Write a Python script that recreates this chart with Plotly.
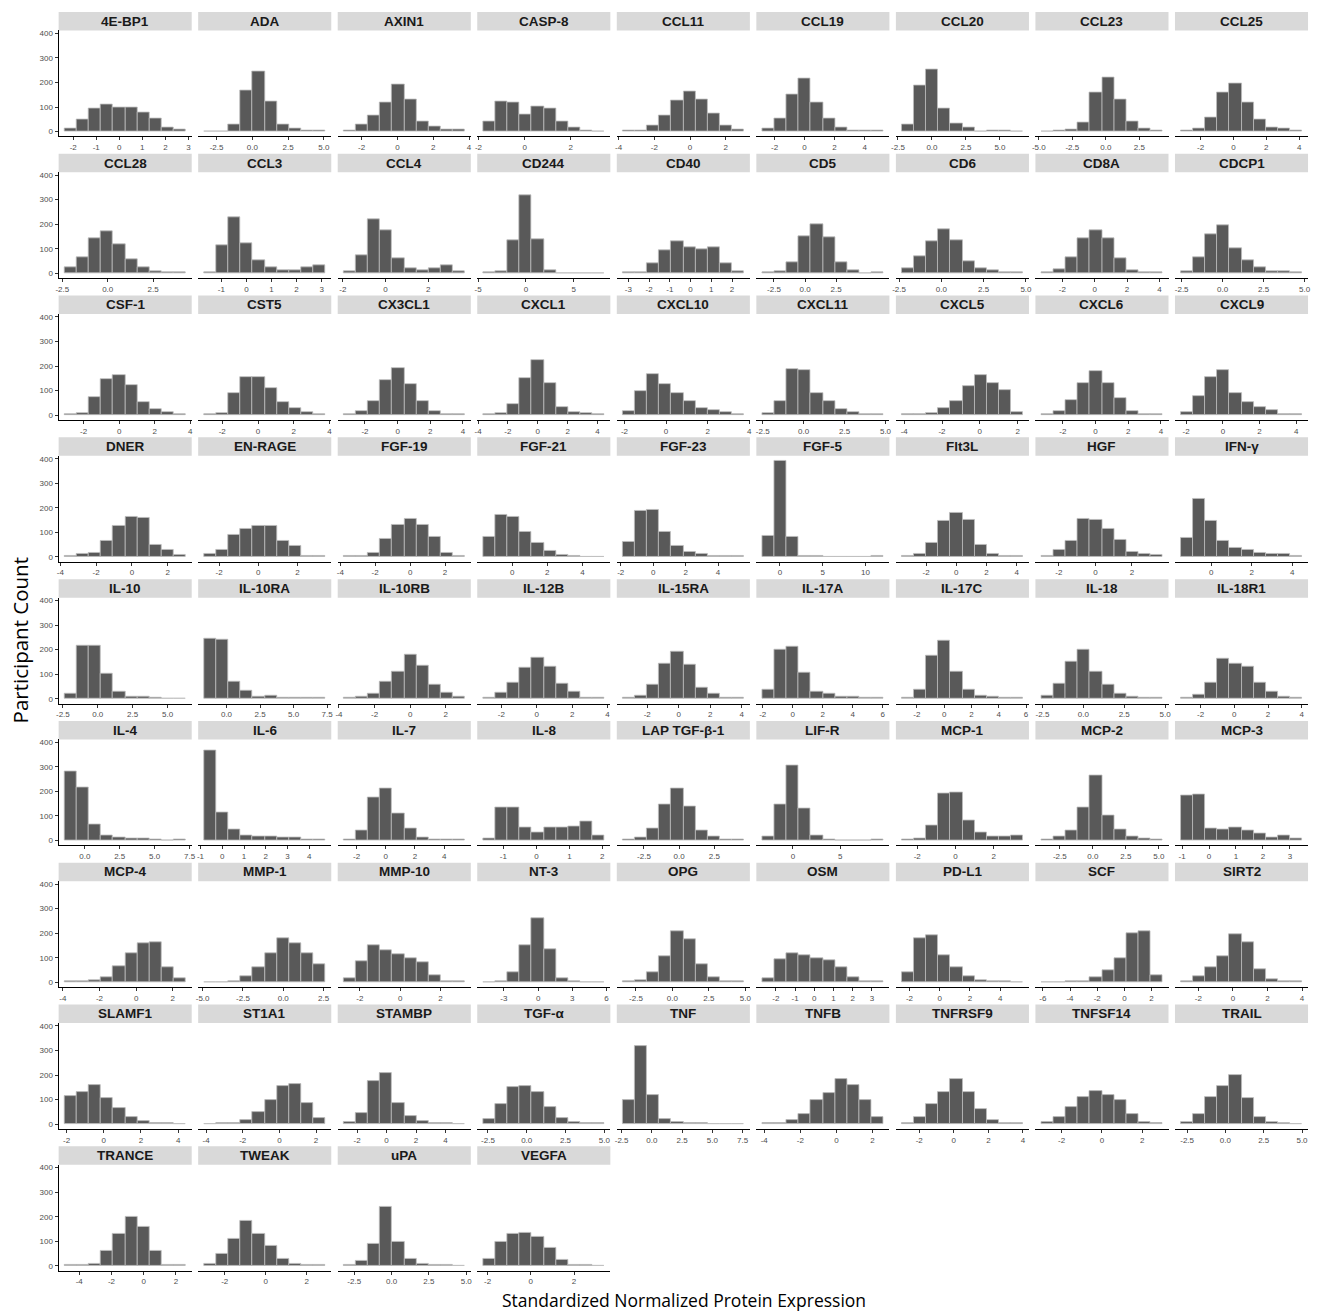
import plotly.graph_objects as go

# ---------------- data ----------------
names = [
    "4E-BP1", "ADA", "AXIN1", "CASP-8", "CCL11", "CCL19", "CCL20", "CCL23", "CCL25",
    "CCL28", "CCL3", "CCL4", "CD244", "CD40", "CD5", "CD6", "CD8A", "CDCP1",
    "CSF-1", "CST5", "CX3CL1", "CXCL1", "CXCL10", "CXCL11", "CXCL5", "CXCL6", "CXCL9",
    "DNER", "EN-RAGE", "FGF-19", "FGF-21", "FGF-23", "FGF-5", "Flt3L", "HGF", "IFN-γ",
    "IL-10", "IL-10RA", "IL-10RB", "IL-12B", "IL-15RA", "IL-17A", "IL-17C", "IL-18", "IL-18R1",
    "IL-4", "IL-6", "IL-7", "IL-8", "LAP TGF-β-1", "LIF-R", "MCP-1", "MCP-2", "MCP-3",
    "MCP-4", "MMP-1", "MMP-10", "NT-3", "OPG", "OSM", "PD-L1", "SCF", "SIRT2",
    "SLAMF1", "ST1A1", "STAMBP", "TGF-α", "TNF", "TNFB", "TNFRSF9", "TNFSF14", "TRAIL",
    "TRANCE", "TWEAK", "uPA", "VEGFA",
]

# left edge of the first bin and right edge of the last bin
bin_lo = [
    -2.37, -3.36, -3.00, -1.79, -3.76, -2.81, -2.21, -4.80, -3.19,
    -2.37, -1.68, -1.96, -4.45, -3.27, -3.43, -2.33, -3.29, -2.54,
    -3.07, -3.01, -3.30, -3.65, -2.08, -2.52, -4.12, -3.31, -2.28,
    -3.76, -2.76, -3.80, -1.64, -1.87, -2.04, -3.60, -2.95, -1.50,
    -2.37, -1.66, -3.73, -3.02, -3.55, -2.02, -3.10, -2.56, -3.16,
    -1.44, -0.83, -2.88, -1.61, -4.00, -3.21, -2.80, -3.89, -1.04,
    -3.90, -4.90, -2.80, -4.80, -3.40, -2.70, -2.50, -6.10, -3.00,
    -2.10, -4.10, -2.90, -2.80, -2.40, -4.10, -3.00, -3.00, -2.90,
    -4.90, -3.00, -3.20, -2.20,
]
bin_hi = [
    2.88, 5.10, 3.76, 3.45, 3.01, 5.25, 6.69, 4.23, 4.17,
    4.29, 3.14, 3.71, 8.20, 2.57, 6.30, 4.82, 4.19, 4.84,
    3.75, 3.76, 4.11, 4.46, 3.74, 4.87, 2.28, 4.09, 4.31,
    3.01, 3.41, 3.13, 5.24, 5.59, 12.09, 4.41, 3.67, 4.49,
    6.30, 7.36, 3.07, 3.82, 4.13, 6.04, 5.77, 4.84, 4.01,
    7.22, 4.73, 5.41, 2.06, 4.60, 9.54, 3.53, 5.27, 3.45,
    2.70, 2.60, 3.20, 5.80, 4.90, 3.60, 5.50, 2.80, 4.00,
    4.40, 2.50, 5.30, 5.00, 7.60, 2.60, 4.00, 3.00, 5.00,
    2.60, 2.90, 4.90, 3.40,
]

counts = [
    [11, 49, 96, 112, 100, 100, 76, 55, 18, 8],
    [2, 2, 28, 167, 243, 121, 30, 14, 6, 3],
    [3, 27, 67, 120, 190, 131, 40, 20, 8, 7],
    [43, 123, 118, 70, 104, 96, 40, 16, 4, 2],
    [3, 6, 26, 65, 127, 164, 130, 75, 25, 7],
    [14, 52, 150, 216, 117, 52, 15, 4, 3, 3],
    [27, 188, 253, 96, 35, 18, 2, 3, 3, 2],
    [2, 3, 7, 38, 158, 222, 131, 42, 14, 3],
    [3, 11, 59, 158, 195, 120, 49, 16, 12, 5],

    [24, 65, 144, 170, 120, 58, 24, 9, 4, 4],
    [4, 113, 228, 121, 54, 24, 12, 12, 24, 31],
    [7, 72, 222, 177, 60, 19, 11, 19, 33, 8],
    [4, 10, 135, 317, 140, 11, 2, 2, 2, 2],
    [3, 5, 41, 95, 129, 107, 97, 107, 42, 8],
    [3, 10, 45, 151, 201, 147, 45, 11, 2, 5],
    [19, 69, 130, 181, 136, 50, 20, 11, 3, 4],
    [4, 15, 65, 141, 175, 141, 63, 14, 3, 3],
    [8, 67, 160, 197, 102, 54, 26, 8, 7, 4],

    [5, 10, 75, 147, 165, 122, 54, 23, 14, 3],
    [3, 9, 91, 154, 154, 112, 52, 27, 11, 5],
    [3, 16, 58, 141, 190, 126, 56, 15, 6, 4],
    [3, 7, 44, 152, 223, 129, 33, 14, 7, 4],
    [16, 99, 168, 128, 92, 58, 28, 19, 12, 4],
    [7, 56, 189, 184, 90, 56, 24, 12, 3, 3],
    [5, 4, 7, 27, 57, 117, 163, 129, 101, 11],
    [5, 18, 61, 130, 181, 130, 69, 18, 3, 3],
    [14, 79, 154, 184, 88, 53, 33, 19, 5, 4],

    [3, 12, 18, 65, 125, 162, 160, 48, 28, 8],
    [11, 30, 89, 116, 126, 128, 64, 44, 5, 4],
    [4, 5, 18, 75, 132, 157, 132, 80, 17, 6],
    [80, 173, 165, 102, 59, 23, 10, 3, 2, 2],
    [60, 186, 193, 102, 44, 20, 14, 3, 3, 3],
    [87, 392, 80, 4, 3, 2, 2, 2, 2, 3],
    [4, 12, 57, 145, 179, 151, 50, 14, 5, 3],
    [5, 27, 67, 156, 153, 116, 68, 22, 14, 7],
    [78, 235, 148, 67, 37, 29, 18, 14, 11, 4],

    [20, 217, 217, 101, 28, 8, 10, 4, 2, 2],
    [243, 241, 70, 33, 9, 12, 3, 4, 4, 3],
    [3, 8, 22, 71, 111, 179, 134, 59, 25, 7],
    [6, 24, 64, 126, 168, 132, 60, 27, 3, 3],
    [3, 12, 59, 143, 191, 140, 45, 19, 5, 5],
    [37, 200, 211, 108, 27, 19, 10, 8, 4, 4],
    [3, 37, 174, 235, 110, 37, 14, 7, 3, 3],
    [14, 61, 153, 198, 109, 56, 22, 7, 3, 3],
    [4, 16, 64, 162, 144, 130, 64, 27, 7, 3],

    [280, 216, 66, 22, 11, 7, 10, 3, 2, 4],
    [368, 116, 45, 22, 16, 16, 14, 12, 4, 5],
    [3, 42, 177, 213, 109, 50, 13, 3, 3, 3],
    [8, 134, 134, 52, 31, 52, 52, 57, 79, 20],
    [3, 11, 48, 146, 212, 140, 40, 16, 3, 3],
    [16, 147, 304, 131, 19, 3, 2, 2, 2, 4],
    [3, 7, 61, 191, 194, 83, 34, 16, 16, 19],
    [5, 16, 41, 136, 266, 102, 45, 15, 7, 3],
    [182, 187, 49, 45, 52, 41, 29, 11, 19, 7],

    [3, 4, 8, 20, 65, 120, 160, 165, 60, 15],
    [2, 2, 5, 25, 60, 120, 180, 160, 120, 75],
    [15, 85, 150, 130, 115, 100, 80, 30, 6, 3],
    [2, 5, 40, 150, 260, 135, 15, 3, 2, 2],
    [3, 8, 40, 105, 210, 175, 75, 20, 5, 3],
    [15, 95, 120, 110, 100, 90, 60, 20, 5, 3],
    [40, 180, 190, 110, 60, 25, 10, 5, 3, 2],
    [2, 2, 3, 5, 20, 50, 100, 200, 210, 30],
    [5, 25, 60, 105, 195, 165, 55, 12, 4, 3],

    [115, 130, 160, 105, 65, 30, 12, 5, 3, 2],
    [2, 3, 6, 18, 50, 100, 155, 165, 85, 25],
    [8, 45, 175, 210, 85, 35, 12, 5, 3, 2],
    [20, 80, 150, 155, 130, 70, 25, 10, 5, 3],
    [100, 320, 120, 20, 8, 5, 3, 2, 2, 2],
    [3, 5, 15, 40, 100, 125, 185, 160, 100, 30],
    [5, 30, 80, 130, 185, 130, 60, 15, 5, 3],
    [10, 30, 70, 110, 135, 120, 100, 40, 8, 3],
    [10, 40, 110, 155, 200, 105, 30, 8, 3, 2],

    [3, 5, 10, 60, 130, 200, 160, 60, 5, 3],
    [10, 50, 110, 185, 130, 80, 30, 10, 5, 3],
    [5, 20, 90, 240, 100, 30, 10, 5, 3, 2],
    [30, 100, 130, 135, 120, 75, 25, 5, 3, 2],
]

x_ticks = [
    [-2, -1, 0, 1, 2, 3], [-2.5, 0, 2.5, 5], [-2, 0, 2, 4], [-2, 0, 2], [-4, -2, 0, 2],
    [-2, 0, 2, 4], [-2.5, 0, 2.5, 5], [-5, -2.5, 0, 2.5], [-2, 0, 2, 4],
    [-2.5, 0, 2.5], [-1, 0, 1, 2, 3], [-2, 0, 2], [-5, 0, 5], [-3, -2, -1, 0, 1, 2],
    [-2.5, 0, 2.5], [-2.5, 0, 2.5, 5], [-2, 0, 2, 4], [-2.5, 0, 2.5, 5],
    [-2, 0, 2, 4], [-2, 0, 2, 4], [-2, 0, 2, 4], [-4, -2, 0, 2, 4], [-2, 0, 2, 4],
    [-2.5, 0, 2.5, 5], [-4, -2, 0, 2], [-2, 0, 2, 4], [-2, 0, 2, 4],
    [-4, -2, 0, 2], [-2, 0, 2], [-4, -2, 0, 2], [-2, 0, 2, 4], [-2, 0, 2, 4, 6],
    [0, 5, 10], [-2, 0, 2, 4], [-2, 0, 2], [0, 2, 4],
    [-2.5, 0, 2.5, 5], [0, 2.5, 5, 7.5], [-4, -2, 0, 2], [-2, 0, 2, 4], [-2, 0, 2, 4],
    [-2, 0, 2, 4, 6], [-2, 0, 2, 4, 6], [-2.5, 0, 2.5, 5], [-2, 0, 2, 4],
    [0, 2.5, 5, 7.5], [-1, 0, 1, 2, 3, 4], [-2, 0, 2, 4], [-1, 0, 1, 2], [-2.5, 0, 2.5],
    [0, 5], [-2, 0, 2], [-2.5, 0, 2.5, 5], [-1, 0, 1, 2, 3],
    [-4, -2, 0, 2], [-5, -2.5, 0, 2.5], [-2, 0, 2], [-3, 0, 3, 6], [-2.5, 0, 2.5, 5],
    [-2, -1, 0, 1, 2, 3], [-2, 0, 2, 4], [-6, -4, -2, 0, 2], [-2, 0, 2, 4],
    [-2, 0, 2, 4], [-4, -2, 0, 2], [-2, 0, 2, 4], [-2.5, 0, 2.5, 5], [-2.5, 0, 2.5, 5, 7.5],
    [-4, -2, 0, 2], [-2, 0, 2, 4], [-2, 0, 2], [-2.5, 0, 2.5, 5],
    [-4, -2, 0, 2], [-2, 0, 2], [-2.5, 0, 2.5, 5], [-2, 0, 2],
]

y_ticks = [0, 100, 200, 300, 400]
y_range = [-19.6, 411.6]

# ---------------- layout geometry ----------------
W, H = 1319, 1312
NCOL = 9
COL_X0, COL_PITCH, PANEL_W = 54.0, 140.5, 134.0
ROW_Y0, ROW_PITCH = 11.0, 141.9
STRIP_H, PANEL_BOTTOM = 18.5, 124.5

BAR_FILL = "#595959"
BAR_LINE = "#bdbdbd"
STRIP_FILL = "#d9d9d9"
TICK_FONT = dict(family="Liberation Sans Narrow, Liberation Sans, Arial", size=8, color="#4d4d4d")
STRIP_FONT = dict(family="Liberation Sans Narrow, Liberation Sans, Arial", size=13.5, color="#1a1a1a")


def fmt(v, dec):
    return f"{v:.1f}" if dec else f"{v:.0f}"


fig = go.Figure()
layout = {}
annotations = []
shapes = []

for i, name in enumerate(names):
    r, c = divmod(i, NCOL)
    k = i + 1
    xname = "x" if k == 1 else f"x{k}"
    yname = "y" if k == 1 else f"y{k}"
    lo, hi = bin_lo[i], bin_hi[i]
    cts = counts[i]
    n = len(cts)
    bw = (hi - lo) / n
    centers = [lo + bw * (j + 0.5) for j in range(n)]

    fig.add_trace(go.Bar(
        x=centers, y=cts, width=[bw] * n,
        xaxis=xname, yaxis=yname, showlegend=False,
        marker=dict(color=BAR_FILL, line=dict(color=BAR_LINE, width=0.8)),
        hovertemplate=name + "<br>%{x:.2f}: %{y}<extra></extra>",
    ))

    x0 = COL_X0 + c * COL_PITCH
    x1 = x0 + PANEL_W
    st = ROW_Y0 + r * ROW_PITCH
    sb = st + STRIP_H
    pb = st + PANEL_BOTTOM

    span = hi - lo
    tv = x_ticks[i]
    dec = any(abs(v - round(v)) > 1e-9 for v in tv)
    layout["xaxis" if k == 1 else f"xaxis{k}"] = dict(
        domain=[x0 / W, x1 / W], anchor=yname,
        range=[lo - 0.05 * span, hi + 0.05 * span],
        showgrid=False, zeroline=False,
        showline=True, linecolor="black", linewidth=1.1,
        ticks="outside", ticklen=3, tickwidth=0.8, tickcolor="#333333",
        tickvals=tv, ticktext=[fmt(v, dec) for v in tv],
        tickfont=TICK_FONT, fixedrange=True,
    )
    ydict = dict(
        domain=[1 - pb / H, 1 - sb / H], anchor=xname,
        range=y_range, showgrid=False, zeroline=False, fixedrange=True,
    )
    if c == 0:
        ydict.update(showline=True, linecolor="black", linewidth=1.1,
                     ticks="outside", ticklen=3, tickwidth=0.8, tickcolor="#333333",
                     tickvals=y_ticks, ticktext=[str(v) for v in y_ticks],
                     tickfont=TICK_FONT)
    else:
        ydict.update(showline=False, showticklabels=False, ticks="")
    layout["yaxis" if k == 1 else f"yaxis{k}"] = ydict

    shapes.append(dict(type="rect", xref="paper", yref="paper",
                       x0=x0 / W, x1=x1 / W, y0=1 - sb / H, y1=1 - st / H,
                       fillcolor=STRIP_FILL, line=dict(width=0), layer="below"))
    annotations.append(dict(xref="paper", yref="paper",
                            x=(x0 + x1) / 2 / W, y=1 - (st + sb) / 2 / H,
                            text=f"<b>{name}</b>", showarrow=False,
                            font=STRIP_FONT, xanchor="center", yanchor="middle"))

annotations.append(dict(xref="paper", yref="paper", x=684 / W, y=1 - 1300 / H,
                        text="Standardized Normalized Protein Expression",
                        showarrow=False,
                        font=dict(family="Open Sans, Noto Sans, Arial", size=17.5, color="black"),
                        xanchor="center", yanchor="middle"))
annotations.append(dict(xref="paper", yref="paper", x=15 / W, y=1 - 640 / H,
                        text="Participant Count", textangle=-90,
                        showarrow=False,
                        font=dict(family="Open Sans, Noto Sans, Arial", size=20.5, color="black"),
                        xanchor="center", yanchor="middle"))

fig.update_layout(
    width=W, height=H,
    margin=dict(l=0, r=0, t=0, b=0),
    paper_bgcolor="white", plot_bgcolor="white",
    annotations=annotations, shapes=shapes,
    bargap=0,
    **layout,
)

# remove the default page margin so the figure fills the window exactly
fig.write_html("out.html", include_plotlyjs=True, full_html=True,
               config={"displayModeBar": False},
               post_script="document.body.style.margin='0';"
                           "document.body.style.overflow='hidden';")
